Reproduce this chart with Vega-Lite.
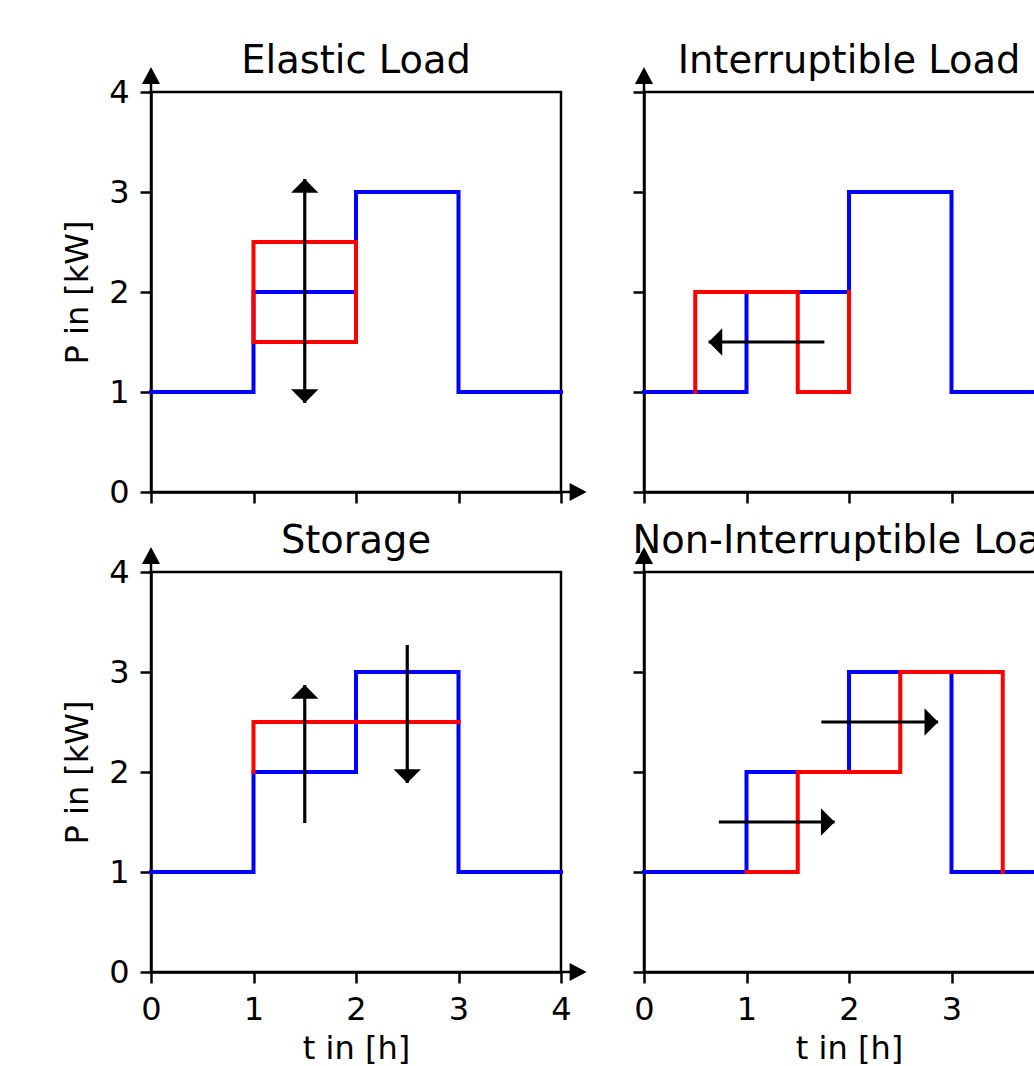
{
  "$schema": "https://vega.github.io/schema/vega-lite/v6.json",
  "background": "white",
  "padding": {"left": 60, "top": 40, "right": 0, "bottom": 0},
  "columns": 2,
  "spacing": {"row": 80, "column": 83},
  "bounds": "flush",
  "datasets": {
    "steps": [
      {"panel": "E", "s": "blue", "i": 0, "t": 0, "p": 1},
      {"panel": "E", "s": "blue", "i": 1, "t": 1, "p": 1},
      {"panel": "E", "s": "blue", "i": 2, "t": 1, "p": 2},
      {"panel": "E", "s": "blue", "i": 3, "t": 2, "p": 2},
      {"panel": "E", "s": "blue", "i": 4, "t": 2, "p": 3},
      {"panel": "E", "s": "blue", "i": 5, "t": 3, "p": 3},
      {"panel": "E", "s": "blue", "i": 6, "t": 3, "p": 1},
      {"panel": "E", "s": "blue", "i": 7, "t": 4, "p": 1},
      {"panel": "I", "s": "blue", "i": 0, "t": 0, "p": 1},
      {"panel": "I", "s": "blue", "i": 1, "t": 1, "p": 1},
      {"panel": "I", "s": "blue", "i": 2, "t": 1, "p": 2},
      {"panel": "I", "s": "blue", "i": 3, "t": 2, "p": 2},
      {"panel": "I", "s": "blue", "i": 4, "t": 2, "p": 3},
      {"panel": "I", "s": "blue", "i": 5, "t": 3, "p": 3},
      {"panel": "I", "s": "blue", "i": 6, "t": 3, "p": 1},
      {"panel": "I", "s": "blue", "i": 7, "t": 4, "p": 1},
      {"panel": "S", "s": "blue", "i": 0, "t": 0, "p": 1},
      {"panel": "S", "s": "blue", "i": 1, "t": 1, "p": 1},
      {"panel": "S", "s": "blue", "i": 2, "t": 1, "p": 2},
      {"panel": "S", "s": "blue", "i": 3, "t": 2, "p": 2},
      {"panel": "S", "s": "blue", "i": 4, "t": 2, "p": 3},
      {"panel": "S", "s": "blue", "i": 5, "t": 3, "p": 3},
      {"panel": "S", "s": "blue", "i": 6, "t": 3, "p": 1},
      {"panel": "S", "s": "blue", "i": 7, "t": 4, "p": 1},
      {"panel": "N", "s": "blue", "i": 0, "t": 0, "p": 1},
      {"panel": "N", "s": "blue", "i": 1, "t": 1, "p": 1},
      {"panel": "N", "s": "blue", "i": 2, "t": 1, "p": 2},
      {"panel": "N", "s": "blue", "i": 3, "t": 2, "p": 2},
      {"panel": "N", "s": "blue", "i": 4, "t": 2, "p": 3},
      {"panel": "N", "s": "blue", "i": 5, "t": 3, "p": 3},
      {"panel": "N", "s": "blue", "i": 6, "t": 3, "p": 1},
      {"panel": "N", "s": "blue", "i": 7, "t": 4, "p": 1},
      {"panel": "E", "s": "red", "i": 0, "t": 1, "p": 1.5},
      {"panel": "E", "s": "red", "i": 1, "t": 1, "p": 2.5},
      {"panel": "E", "s": "red", "i": 2, "t": 2, "p": 2.5},
      {"panel": "E", "s": "red", "i": 3, "t": 2, "p": 1.5},
      {"panel": "E", "s": "red", "i": 4, "t": 1, "p": 1.5},
      {"panel": "I", "s": "red", "i": 0, "t": 0.5, "p": 1},
      {"panel": "I", "s": "red", "i": 1, "t": 0.5, "p": 2},
      {"panel": "I", "s": "red", "i": 2, "t": 1.5, "p": 2},
      {"panel": "I", "s": "red", "i": 3, "t": 1.5, "p": 1},
      {"panel": "I", "s": "red", "i": 4, "t": 2, "p": 1},
      {"panel": "I", "s": "red", "i": 5, "t": 2, "p": 2},
      {"panel": "S", "s": "red", "i": 0, "t": 1, "p": 2},
      {"panel": "S", "s": "red", "i": 1, "t": 1, "p": 2.5},
      {"panel": "S", "s": "red", "i": 2, "t": 3, "p": 2.5},
      {"panel": "N", "s": "red", "i": 0, "t": 1, "p": 1},
      {"panel": "N", "s": "red", "i": 1, "t": 1.5, "p": 1},
      {"panel": "N", "s": "red", "i": 2, "t": 1.5, "p": 2},
      {"panel": "N", "s": "red", "i": 3, "t": 2.5, "p": 2},
      {"panel": "N", "s": "red", "i": 4, "t": 2.5, "p": 3},
      {"panel": "N", "s": "red", "i": 5, "t": 3.5, "p": 3},
      {"panel": "N", "s": "red", "i": 6, "t": 3.5, "p": 1}
    ],
    "arrows": [
      {"panel": "E", "t": 1.5, "p": 0.89, "t2": 1.5, "p2": 3.13},
      {"panel": "I", "t": 1.76, "p": 1.5, "t2": 0.63, "p2": 1.5},
      {"panel": "S", "t": 1.5, "p": 1.49, "t2": 1.5, "p2": 2.87},
      {"panel": "S", "t": 2.5, "p": 3.27, "t2": 2.5, "p2": 1.89},
      {"panel": "N", "t": 0.73, "p": 1.5, "t2": 1.86, "p2": 1.5},
      {"panel": "N", "t": 1.73, "p": 2.5, "t2": 2.87, "p2": 2.5}
    ],
    "heads": [
      {"panel": "E", "t": 1.5, "p": 3.13, "dir": "up"},
      {"panel": "E", "t": 1.5, "p": 0.89, "dir": "down"},
      {"panel": "I", "t": 0.63, "p": 1.5, "dir": "left"},
      {"panel": "S", "t": 1.5, "p": 2.87, "dir": "up"},
      {"panel": "S", "t": 2.5, "p": 1.89, "dir": "down"},
      {"panel": "N", "t": 1.86, "p": 1.5, "dir": "right"},
      {"panel": "N", "t": 2.87, "p": 2.5, "dir": "right"}
    ],
    "axlines": [
      {"t": 4, "p": 0, "t2": 4.1, "p2": 0},
      {"t": 0, "p": 4, "t2": 0, "p2": 4.1}
    ],
    "axheads": [
      {"t": 4.25, "p": 0, "dir": "axright"},
      {"t": 0, "p": 4.25, "dir": "axup"}
    ]
  },
  "concat": [
    {
      "width": 410, "height": 400,
      "title": {"text": "Elastic Load"},
      "encoding": {
        "x": {"field": "t", "type": "quantitative", "scale": {"domain": [0, 4], "nice": false, "zero": false}, "axis": {"values": [0, 1, 2, 3, 4], "labels": false, "title": null}},
        "y": {"field": "p", "type": "quantitative", "scale": {"domain": [0, 4], "nice": false, "zero": false}, "axis": {"values": [0, 1, 2, 3, 4], "labels": true, "title": "P in [kW]"}}
      },
      "layer": [
        {"data": {"name": "steps"}, "transform": [{"filter": "datum.panel == 'E' && datum.s == 'blue'"}], "mark": {"type": "line", "color": "#0000ff", "strokeWidth": 4, "strokeJoin": "miter", "strokeCap": "square"}, "encoding": {"order": {"field": "i", "type": "quantitative"}}},
        {"data": {"name": "steps"}, "transform": [{"filter": "datum.panel == 'E' && datum.s == 'red'"}], "mark": {"type": "line", "color": "#ff0000", "strokeWidth": 4, "strokeJoin": "miter", "strokeCap": "square"}, "encoding": {"order": {"field": "i", "type": "quantitative"}}},
        {"data": {"name": "arrows"}, "transform": [{"filter": "datum.panel == 'E'"}], "mark": {"type": "rule", "color": "black", "strokeWidth": 3.2}, "encoding": {"x2": {"field": "t2"}, "y2": {"field": "p2"}}},
        {"data": {"name": "heads"}, "transform": [{"filter": "datum.panel == 'E'"}], "mark": {"type": "point", "filled": true, "color": "black", "opacity": 1, "strokeWidth": 0, "size": 751}, "encoding": {"shape": {"field": "dir", "type": "nominal", "legend": null, "scale": {"domain": ["up", "down", "left", "right", "axup", "axright"], "range": ["M0,0L1,1L-1,1Z", "M0,0L1,-1L-1,-1Z", "M0,0L1,-1L1,1Z", "M0,0L-1,-1L-1,1Z", "M0,0L0.53,1L-0.53,1Z", "M0,0L-1,-0.53L-1,0.53Z"]}}}},
        {"data": {"name": "axlines"}, "mark": {"type": "rule", "color": "black", "strokeWidth": 2.5}, "encoding": {"x2": {"field": "t2"}, "y2": {"field": "p2"}}},
        {"data": {"name": "axheads"}, "mark": {"type": "point", "filled": true, "color": "black", "opacity": 1, "strokeWidth": 0, "size": 1156}, "encoding": {"shape": {"field": "dir", "type": "nominal", "legend": null, "scale": {"domain": ["up", "down", "left", "right", "axup", "axright"], "range": ["M0,0L1,1L-1,1Z", "M0,0L1,-1L-1,-1Z", "M0,0L1,-1L1,1Z", "M0,0L-1,-1L-1,1Z", "M0,0L0.53,1L-0.53,1Z", "M0,0L-1,-0.53L-1,0.53Z"]}}}}
      ]
    },
    {
      "width": 410, "height": 400,
      "title": {"text": "Interruptible Load"},
      "encoding": {
        "x": {"field": "t", "type": "quantitative", "scale": {"domain": [0, 4], "nice": false, "zero": false}, "axis": {"values": [0, 1, 2, 3, 4], "labels": false, "title": null}},
        "y": {"field": "p", "type": "quantitative", "scale": {"domain": [0, 4], "nice": false, "zero": false}, "axis": {"values": [0, 1, 2, 3, 4], "labels": false, "title": null}}
      },
      "layer": [
        {"data": {"name": "steps"}, "transform": [{"filter": "datum.panel == 'I' && datum.s == 'blue'"}], "mark": {"type": "line", "color": "#0000ff", "strokeWidth": 4, "strokeJoin": "miter", "strokeCap": "square"}, "encoding": {"order": {"field": "i", "type": "quantitative"}}},
        {"data": {"name": "steps"}, "transform": [{"filter": "datum.panel == 'I' && datum.s == 'red'"}], "mark": {"type": "line", "color": "#ff0000", "strokeWidth": 4, "strokeJoin": "miter", "strokeCap": "square"}, "encoding": {"order": {"field": "i", "type": "quantitative"}}},
        {"data": {"name": "arrows"}, "transform": [{"filter": "datum.panel == 'I'"}], "mark": {"type": "rule", "color": "black", "strokeWidth": 3.2}, "encoding": {"x2": {"field": "t2"}, "y2": {"field": "p2"}}},
        {"data": {"name": "heads"}, "transform": [{"filter": "datum.panel == 'I'"}], "mark": {"type": "point", "filled": true, "color": "black", "opacity": 1, "strokeWidth": 0, "size": 751}, "encoding": {"shape": {"field": "dir", "type": "nominal", "legend": null, "scale": {"domain": ["up", "down", "left", "right", "axup", "axright"], "range": ["M0,0L1,1L-1,1Z", "M0,0L1,-1L-1,-1Z", "M0,0L1,-1L1,1Z", "M0,0L-1,-1L-1,1Z", "M0,0L0.53,1L-0.53,1Z", "M0,0L-1,-0.53L-1,0.53Z"]}}}},
        {"data": {"name": "axlines"}, "mark": {"type": "rule", "color": "black", "strokeWidth": 2.5}, "encoding": {"x2": {"field": "t2"}, "y2": {"field": "p2"}}},
        {"data": {"name": "axheads"}, "mark": {"type": "point", "filled": true, "color": "black", "opacity": 1, "strokeWidth": 0, "size": 1156}, "encoding": {"shape": {"field": "dir", "type": "nominal", "legend": null, "scale": {"domain": ["up", "down", "left", "right", "axup", "axright"], "range": ["M0,0L1,1L-1,1Z", "M0,0L1,-1L-1,-1Z", "M0,0L1,-1L1,1Z", "M0,0L-1,-1L-1,1Z", "M0,0L0.53,1L-0.53,1Z", "M0,0L-1,-0.53L-1,0.53Z"]}}}}
      ]
    },
    {
      "width": 410, "height": 400,
      "title": {"text": "Storage"},
      "encoding": {
        "x": {"field": "t", "type": "quantitative", "scale": {"domain": [0, 4], "nice": false, "zero": false}, "axis": {"values": [0, 1, 2, 3, 4], "labels": true, "title": "t in [h]"}},
        "y": {"field": "p", "type": "quantitative", "scale": {"domain": [0, 4], "nice": false, "zero": false}, "axis": {"values": [0, 1, 2, 3, 4], "labels": true, "title": "P in [kW]"}}
      },
      "layer": [
        {"data": {"name": "steps"}, "transform": [{"filter": "datum.panel == 'S' && datum.s == 'blue'"}], "mark": {"type": "line", "color": "#0000ff", "strokeWidth": 4, "strokeJoin": "miter", "strokeCap": "square"}, "encoding": {"order": {"field": "i", "type": "quantitative"}}},
        {"data": {"name": "steps"}, "transform": [{"filter": "datum.panel == 'S' && datum.s == 'red'"}], "mark": {"type": "line", "color": "#ff0000", "strokeWidth": 4, "strokeJoin": "miter", "strokeCap": "square"}, "encoding": {"order": {"field": "i", "type": "quantitative"}}},
        {"data": {"name": "arrows"}, "transform": [{"filter": "datum.panel == 'S'"}], "mark": {"type": "rule", "color": "black", "strokeWidth": 3.2}, "encoding": {"x2": {"field": "t2"}, "y2": {"field": "p2"}}},
        {"data": {"name": "heads"}, "transform": [{"filter": "datum.panel == 'S'"}], "mark": {"type": "point", "filled": true, "color": "black", "opacity": 1, "strokeWidth": 0, "size": 751}, "encoding": {"shape": {"field": "dir", "type": "nominal", "legend": null, "scale": {"domain": ["up", "down", "left", "right", "axup", "axright"], "range": ["M0,0L1,1L-1,1Z", "M0,0L1,-1L-1,-1Z", "M0,0L1,-1L1,1Z", "M0,0L-1,-1L-1,1Z", "M0,0L0.53,1L-0.53,1Z", "M0,0L-1,-0.53L-1,0.53Z"]}}}},
        {"data": {"name": "axlines"}, "mark": {"type": "rule", "color": "black", "strokeWidth": 2.5}, "encoding": {"x2": {"field": "t2"}, "y2": {"field": "p2"}}},
        {"data": {"name": "axheads"}, "mark": {"type": "point", "filled": true, "color": "black", "opacity": 1, "strokeWidth": 0, "size": 1156}, "encoding": {"shape": {"field": "dir", "type": "nominal", "legend": null, "scale": {"domain": ["up", "down", "left", "right", "axup", "axright"], "range": ["M0,0L1,1L-1,1Z", "M0,0L1,-1L-1,-1Z", "M0,0L1,-1L1,1Z", "M0,0L-1,-1L-1,1Z", "M0,0L0.53,1L-0.53,1Z", "M0,0L-1,-0.53L-1,0.53Z"]}}}}
      ]
    },
    {
      "width": 410, "height": 400,
      "title": {"text": "Non-Interruptible Load"},
      "encoding": {
        "x": {"field": "t", "type": "quantitative", "scale": {"domain": [0, 4], "nice": false, "zero": false}, "axis": {"values": [0, 1, 2, 3, 4], "labels": true, "title": "t in [h]"}},
        "y": {"field": "p", "type": "quantitative", "scale": {"domain": [0, 4], "nice": false, "zero": false}, "axis": {"values": [0, 1, 2, 3, 4], "labels": false, "title": null}}
      },
      "layer": [
        {"data": {"name": "steps"}, "transform": [{"filter": "datum.panel == 'N' && datum.s == 'blue'"}], "mark": {"type": "line", "color": "#0000ff", "strokeWidth": 4, "strokeJoin": "miter", "strokeCap": "square"}, "encoding": {"order": {"field": "i", "type": "quantitative"}}},
        {"data": {"name": "steps"}, "transform": [{"filter": "datum.panel == 'N' && datum.s == 'red'"}], "mark": {"type": "line", "color": "#ff0000", "strokeWidth": 4, "strokeJoin": "miter", "strokeCap": "square"}, "encoding": {"order": {"field": "i", "type": "quantitative"}}},
        {"data": {"name": "arrows"}, "transform": [{"filter": "datum.panel == 'N'"}], "mark": {"type": "rule", "color": "black", "strokeWidth": 3.2}, "encoding": {"x2": {"field": "t2"}, "y2": {"field": "p2"}}},
        {"data": {"name": "heads"}, "transform": [{"filter": "datum.panel == 'N'"}], "mark": {"type": "point", "filled": true, "color": "black", "opacity": 1, "strokeWidth": 0, "size": 751}, "encoding": {"shape": {"field": "dir", "type": "nominal", "legend": null, "scale": {"domain": ["up", "down", "left", "right", "axup", "axright"], "range": ["M0,0L1,1L-1,1Z", "M0,0L1,-1L-1,-1Z", "M0,0L1,-1L1,1Z", "M0,0L-1,-1L-1,1Z", "M0,0L0.53,1L-0.53,1Z", "M0,0L-1,-0.53L-1,0.53Z"]}}}},
        {"data": {"name": "axlines"}, "mark": {"type": "rule", "color": "black", "strokeWidth": 2.5}, "encoding": {"x2": {"field": "t2"}, "y2": {"field": "p2"}}},
        {"data": {"name": "axheads"}, "mark": {"type": "point", "filled": true, "color": "black", "opacity": 1, "strokeWidth": 0, "size": 1156}, "encoding": {"shape": {"field": "dir", "type": "nominal", "legend": null, "scale": {"domain": ["up", "down", "left", "right", "axup", "axright"], "range": ["M0,0L1,1L-1,1Z", "M0,0L1,-1L-1,-1Z", "M0,0L1,-1L1,1Z", "M0,0L-1,-1L-1,1Z", "M0,0L0.53,1L-0.53,1Z", "M0,0L-1,-0.53L-1,0.53Z"]}}}}
      ]
    }
  ],
  "config": {
    "font": "DejaVu Sans",
    "view": {"stroke": "black", "strokeWidth": 2.5},
    "title": {"font": "DejaVu Sans", "fontSize": 38.4, "fontWeight": "normal", "color": "black", "anchor": "middle", "frame": "group", "baseline": "alphabetic", "offset": -14},
    "axis": {
      "grid": false,
      "domain": true, "domainColor": "black", "domainWidth": 2.5,
      "ticks": true, "tickColor": "black", "tickWidth": 2.5, "tickSize": 11,
      "labelFont": "DejaVu Sans", "labelFontSize": 32, "labelColor": "black", "labelPadding": 11,
      "labelFlush": false, "labelOverlap": false, "labelBound": false,
      "titleFont": "DejaVu Sans", "titleFontSize": 32, "titleFontWeight": "normal", "titleColor": "black"
    },
    "axisY": {"titlePadding": 14},
    "axisX": {"titlePadding": 8}
  }
}
